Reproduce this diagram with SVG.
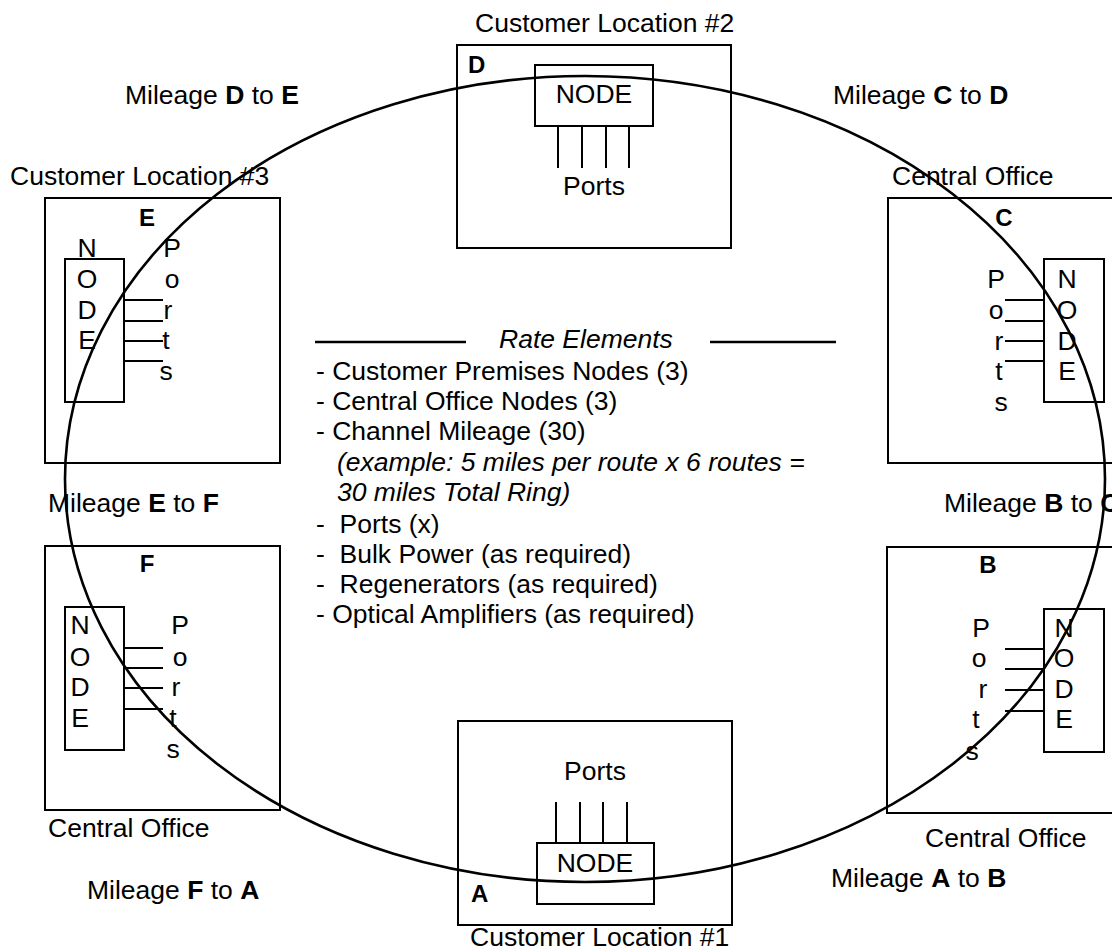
<svg xmlns="http://www.w3.org/2000/svg" width="1112" height="951" viewBox="0 0 1112 951">
<style>
text{font-family:"Liberation Sans",Arial,sans-serif;font-size:26.5px;fill:#000}
.b{font-weight:bold}
.lb{font-weight:bold;font-size:24px}
.i{font-style:italic}
.m{text-anchor:middle}
.pre{white-space:pre}
.box{fill:none;stroke:#000;stroke-width:2}
.ln{stroke:#000;stroke-width:2;fill:none}
.ring{fill:none;stroke:#000;stroke-width:2.6}
</style>
<rect width="1112" height="951" fill="#fff"/>

<g id="node-D">
<text x="475" y="32">Customer Location #2</text>
<rect class="box" x="457" y="45" width="274" height="203"/>
<text class="lb" x="468" y="73">D</text>
<rect class="box" x="535" y="65" width="118" height="61"/>
<text class="m" x="594" y="103">NODE</text>
<path class="ln" d="M558 126V168M582 126V168M606 126V168M629 126V168"/>
<text class="m" x="594" y="195">Ports</text>
</g>

<g id="node-E">
<text x="10" y="185">Customer Location #3</text>
<rect class="box" x="45" y="198" width="235" height="265"/>
<text class="lb m" x="147" y="226">E</text>
<rect class="box" x="65" y="259" width="59" height="143"/>
<text class="m" x="87" y="257">N</text>
<text class="m" x="87" y="288">O</text>
<text class="m" x="87" y="319">D</text>
<text class="m" x="87" y="349">E</text>
<path class="ln" d="M124 300H163M124 321H163M124 341H163M124 361H163"/>
<text class="m" x="172" y="257">P</text>
<text class="m" x="172" y="288">o</text>
<text class="m" x="168" y="319">r</text>
<text class="m" x="166" y="349">t</text>
<text class="m" x="166" y="380">s</text>
</g>

<g id="node-C">
<text x="892" y="185">Central Office</text>
<rect class="box" x="888" y="198" width="240" height="265"/>
<text class="lb m" x="1004" y="226">C</text>
<rect class="box" x="1044" y="259" width="60" height="143"/>
<text class="m" x="1067" y="288">N</text>
<text class="m" x="1067" y="319">O</text>
<text class="m" x="1067" y="350">D</text>
<text class="m" x="1067" y="380">E</text>
<path class="ln" d="M1005 300H1044M1005 321H1044M1005 341H1044M1005 361H1044"/>
<text class="m" x="996" y="288">P</text>
<text class="m" x="996" y="319">o</text>
<text class="m" x="999" y="350">r</text>
<text class="m" x="999" y="380">t</text>
<text class="m" x="1001" y="411">s</text>
</g>

<g id="node-F">
<rect class="box" x="45" y="546" width="235" height="264"/>
<text class="lb m" x="147" y="572">F</text>
<rect class="box" x="65" y="607" width="59" height="143"/>
<text class="m" x="80" y="634">N</text>
<text class="m" x="80" y="666">O</text>
<text class="m" x="80" y="696">D</text>
<text class="m" x="80" y="727">E</text>
<path class="ln" d="M124 648H163M124 668H163M124 688H163M124 709H163"/>
<text class="m" x="180" y="634">P</text>
<text class="m" x="180" y="666">o</text>
<text class="m" x="176" y="696">r</text>
<text class="m" x="173" y="727">t</text>
<text class="m" x="173" y="758">s</text>
<text x="48" y="837">Central Office</text>
</g>

<g id="node-B">
<rect class="box" x="887" y="547" width="240" height="266"/>
<text class="lb m" x="988" y="573">B</text>
<rect class="box" x="1044" y="609" width="60" height="143"/>
<text class="m" x="1064" y="637">N</text>
<text class="m" x="1064" y="667">O</text>
<text class="m" x="1064" y="698">D</text>
<text class="m" x="1064" y="728">E</text>
<path class="ln" d="M1005 649H1044M1005 669H1044M1005 690H1044M1005 711H1044"/>
<text class="m" x="981" y="637">P</text>
<text class="m" x="979" y="667">o</text>
<text class="m" x="983" y="698">r</text>
<text class="m" x="976" y="728">t</text>
<text class="m" x="972" y="760">s</text>
<text x="925" y="847">Central Office</text>
</g>

<g id="node-A">
<rect class="box" x="458" y="721" width="274" height="204"/>
<text class="m" x="595" y="780">Ports</text>
<path class="ln" d="M556 802V843M580 802V843M603 802V843M627 802V843"/>
<rect class="box" x="537" y="843" width="117" height="61"/>
<text class="m" x="595" y="872">NODE</text>
<text class="lb" x="471" y="902">A</text>
<text x="470" y="946">Customer Location #1</text>
</g>

<g id="mileage-labels">
<text x="125" y="104">Mileage <tspan class="b">D</tspan> to <tspan class="b">E</tspan></text>
<text x="833" y="104">Mileage <tspan class="b">C</tspan> to <tspan class="b">D</tspan></text>
<text x="48" y="512">Mileage <tspan class="b">E</tspan> to <tspan class="b">F</tspan></text>
<text x="944" y="512">Mileage <tspan class="b">B</tspan> to <tspan class="b">C</tspan></text>
<text x="87" y="899">Mileage <tspan class="b">F</tspan> to <tspan class="b">A</tspan></text>
<text x="831" y="887">Mileage <tspan class="b">A</tspan> to <tspan class="b">B</tspan></text>
</g>

<g id="rate-elements">
<path d="M315 342H466M710 342H836" stroke="#000" stroke-width="2.6"/>
<text class="i" x="499" y="348">Rate Elements</text>
<text x="316" y="380">- Customer Premises Nodes (3)</text>
<text x="316" y="410">- Central Office Nodes (3)</text>
<text x="316" y="440">- Channel Mileage (30)</text>
<text class="i" x="337" y="471">(example: 5 miles per route x 6 routes =</text>
<text class="i" x="337" y="501">30 miles Total Ring)</text>
<text class="pre" x="316" y="533">-  Ports (x)</text>
<text class="pre" x="316" y="563">-  Bulk Power (as required)</text>
<text class="pre" x="316" y="593">-  Regenerators (as required)</text>
<text x="316" y="623">- Optical Amplifiers (as required)</text>
</g>

<g id="connectors">
<ellipse class="ring" cx="585" cy="479" rx="520" ry="403"/>
</g>
</svg>
